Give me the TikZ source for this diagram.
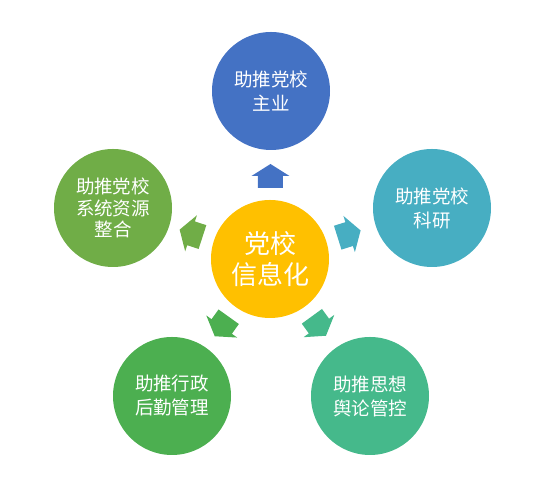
\documentclass[tikz,border=0pt]{standalone}
\usepackage{fontspec}
\setmainfont{Noto Sans CJK SC}
\usetikzlibrary{calc}
\definecolor{cblue}{HTML}{4472C4}
\definecolor{cteal}{HTML}{47AEC2}
\definecolor{colive}{HTML}{70AD47}
\definecolor{cgreen}{HTML}{4CAF50}
\definecolor{cmint}{HTML}{45B98B}
\definecolor{cgold}{HTML}{FFC000}
\begin{document}
\begin{tikzpicture}[x=1pt,y=1pt,
  bub/.style={circle, minimum size=118pt, inner sep=0pt, text=white, align=center,
    font=\fontsize{18.5}{24}\selectfont},
  harrow/.pic={\path[pic actions] (-12,-12.5) -- (0,-12.5) -- (0,-19) -- (12,0)
     -- (0,19) -- (0,12.5) -- (-12,12.5) -- cycle;}]
\useasboundingbox (0,0) rectangle (550,489);
\node[bub, fill=cgold, font=\fontsize{26}{31}\selectfont] (C) at (270,230) {党校\\信息化};
\node[bub, fill=cblue] (T) at (271,398) {助推党校\\主业};
\node[bub, fill=cteal] (R) at (432,281) {助推党校\\科研};
\node[bub, fill=colive, font=\fontsize{18.5}{21.5}\selectfont] (L) at (113,281) {助推党校\\系统资源\\整合};
\node[bub, fill=cgreen] (BL) at (172,93) {助推行政\\后勤管理};
\node[bub, fill=cmint] (BR) at (370,93) {助推思想\\舆论管控};
\pic[fill=cblue, rotate=90] at ($(C)!83pt!(T)$) {harrow};
\pic[fill=cteal, rotate=17.5] at ($(C)!83pt!(R)$) {harrow};
\pic[fill=colive, rotate=162] at ($(C)!83pt!(L)$) {harrow};
\pic[fill=cgreen, rotate=234.4] at ($(C)!83pt!(BL)$) {harrow};
\pic[fill=cmint, rotate=306] at ($(C)!83pt!(BR)$) {harrow};
\end{tikzpicture}
\end{document}
